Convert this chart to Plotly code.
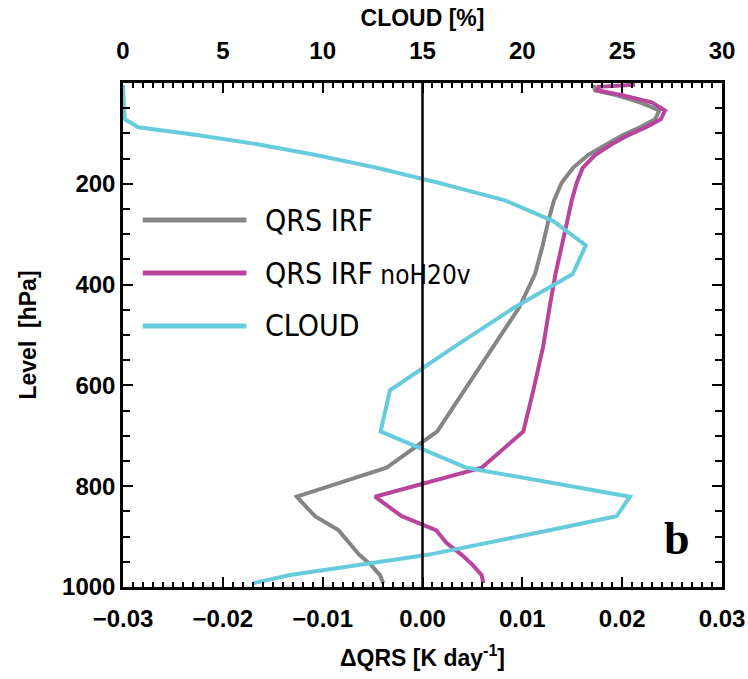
import plotly.graph_objects as go

# CAM hybrid model level midpoints (hPa)
levels = [3.64, 7.59, 14.36, 24.61, 38.27, 54.60, 72.01, 87.82, 103.32, 121.55,
          142.99, 168.23, 197.91, 232.83, 273.91, 322.24, 379.10, 445.99, 524.69,
          609.78, 691.39, 763.40, 820.86, 859.53, 887.02, 912.64, 936.20, 957.49,
          976.33, 992.56]

# Shortwave heating-rate change (K/day)
qrs_irf = [0.01711, 0.01718, 0.01728, 0.01948, 0.02179, 0.02372, 0.02329, 0.02179,
           0.02008, 0.01845, 0.01658, 0.01508, 0.01394, 0.01317, 0.01260, 0.01204,
           0.01127, 0.00967, 0.00699, 0.00419, 0.00148, -0.00359, -0.01260, -0.01077,
           -0.00843, -0.00736, -0.00633, -0.00509, -0.00426, -0.00393]

qrs_irf_noh2ov = [0.02129, 0.01761, 0.01748, 0.02011, 0.02296, 0.02429, 0.02386,
                  0.02239, 0.02062, 0.01895, 0.01728, 0.01605, 0.01545, 0.01495,
                  0.01450, 0.01392, 0.01332, 0.01272, 0.01207, 0.01110, 0.01010,
                  0.00593, -0.00476, -0.00208, 0.00135, 0.00242, 0.00393, 0.00509,
                  0.00593, 0.00609]

# Cloud fraction (%)
cloud = [0.0, 0.0, 0.0, 0.02, 0.03, 0.05, 0.1, 0.77, 3.7, 6.73, 9.66, 12.7, 15.8,
         19.13, 21.55, 23.18, 22.52, 19.58, 16.55, 13.37, 12.9, 17.21, 25.39, 24.72,
         21.42, 18.18, 15.26, 11.62, 8.36, 6.52]

series_names = ["QRS IRF", "QRS IRF<span style='font-size:26px'> noH20v</span>", "CLOUD"]
colors = ["#858585", "#B8449E", "#66CCDD"]

y_ticks = [200, 400, 600, 800, 1000]

fig = go.Figure()
fig.add_trace(go.Scatter(x=qrs_irf, y=levels, mode="lines",
                         line=dict(color=colors[0], width=4), xaxis="x", yaxis="y"))
fig.add_trace(go.Scatter(x=qrs_irf_noh2ov, y=levels, mode="lines",
                         line=dict(color=colors[1], width=4), xaxis="x", yaxis="y"))
fig.add_trace(go.Scatter(x=cloud, y=levels, mode="lines",
                         line=dict(color=colors[2], width=4), xaxis="x2", yaxis="y"))

tick_font = dict(family="Liberation Sans, Arial, sans-serif", size=24, color="black", weight="bold")
title_font = dict(family="Liberation Sans, Arial, sans-serif", size=23, color="black", weight="bold")

fig.update_layout(
    width=748, height=679,
    margin=dict(l=123, r=26, t=83, b=92, autoexpand=False),
    paper_bgcolor="white", plot_bgcolor="white",
    showlegend=False,
    xaxis=dict(
        range=[-0.03, 0.03], dtick=0.01, tick0=-0.03, tickformat=".2f",
        ticks="inside", ticklen=10, tickwidth=2, tickcolor="black",
        minor=dict(dtick=0.001, ticks="inside", ticklen=5, tickwidth=1.5, tickcolor="black"),
        showline=True, linewidth=2.5, linecolor="black", mirror=False,
        showgrid=False, zeroline=False, tickfont=tick_font, automargin=False,
        ticklabelstandoff=8,
        title=dict(text="ΔQRS [K day<sup>-1</sup>]", font=title_font, standoff=20),
    ),
    xaxis2=dict(
        range=[0, 30], dtick=5, tick0=0, overlaying="x", side="top", anchor="y",
        ticks="inside", ticklen=10, tickwidth=2, tickcolor="black",
        minor=dict(dtick=0.5, ticks="inside", ticklen=5, tickwidth=1.5, tickcolor="black"),
        showline=True, linewidth=2.5, linecolor="black",
        showgrid=False, zeroline=False, tickfont=tick_font, automargin=False,
        ticklabelstandoff=12,
        title=dict(text="CLOUD [%]", font=title_font, standoff=4),
    ),
    yaxis=dict(
        range=[1000, 0], tickvals=y_ticks,
        ticks="inside", ticklen=10, tickwidth=2, tickcolor="black",
        minor=dict(tickvals=[v for v in range(50, 1000, 50) if v % 200], ticks="inside",
                   ticklen=7, tickwidth=1.5, tickcolor="black"),
        showline=True, linewidth=2.5, linecolor="black", mirror="ticks",
        showgrid=False, zeroline=False, tickfont=tick_font, automargin=False,
        title=dict(text="Level\u00a0\u00a0[hPa]", font=title_font, standoff=20),
    ),
)

# zero reference line on the heating-rate axis
fig.add_shape(type="line", xref="x", yref="paper", x0=0, x1=0, y0=0, y1=1,
              line=dict(color="black", width=2.5), layer="above")

# hand-drawn legend inside the plot
legend_font = dict(family="Liberation Sans Narrow, DejaVu Sans Condensed, Arial Narrow, sans-serif",
                   size=30, color="black")
leg_y = [0.728, 0.623, 0.518]
for name, col, yy in zip(series_names, colors, leg_y):
    fig.add_shape(type="line", xref="paper", yref="paper", x0=0.033, x1=0.206,
                  y0=yy, y1=yy, line=dict(color=col, width=5))
    fig.add_annotation(xref="paper", yref="paper", x=0.234, y=yy, text=name,
                       showarrow=False, xanchor="left", yanchor="middle",
                       font=legend_font)

fig.add_annotation(xref="paper", yref="paper", x=0.925, y=0.097, text="<b>b</b>",
                   showarrow=False, xanchor="center", yanchor="middle",
                   font=dict(family="Liberation Serif, Times New Roman, serif", size=46, color="black"))

fig.write_html("out.html")
